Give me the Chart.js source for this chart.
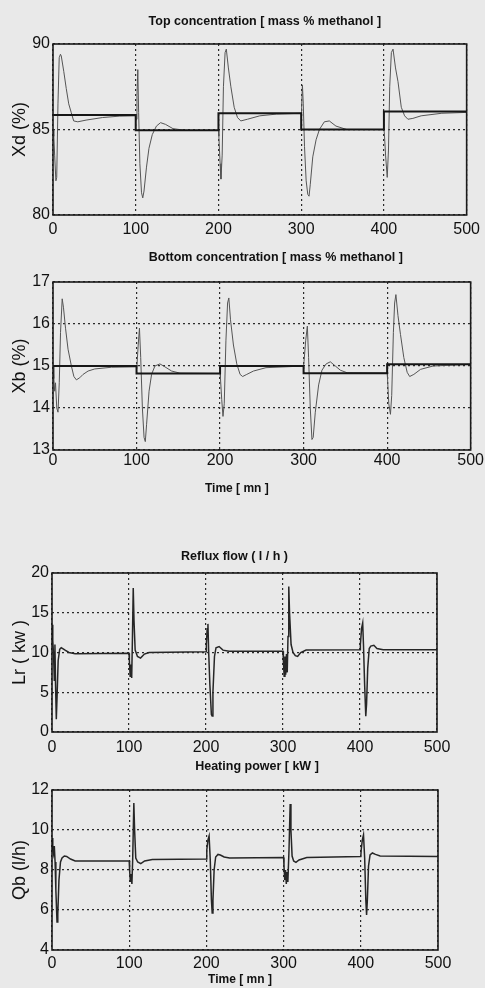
<!DOCTYPE html>
<html>
<head>
<meta charset="utf-8">
<script src="https://cdn.jsdelivr.net/npm/chart.js@4.4.1/dist/chart.umd.min.js"></script>
<style>
  html, body { margin: 0; padding: 0; background: #e9e9e9; }
  body { width: 485px; height: 988px; position: relative; overflow: hidden; }
  .panel { position: absolute; left: 0; width: 485px; }
</style>
</head>
<body>
<div class="panel" style="top:0;height:240px"><canvas id="xd"></canvas></div>
<div class="panel" style="top:240px;height:258px"><canvas id="xb"></canvas></div>
<div class="panel" style="top:498px;height:260px"><canvas id="lr"></canvas></div>
<div class="panel" style="top:758px;height:230px"><canvas id="qb"></canvas></div>
<script>
// top concentration, setpoint and response
const xdSpTime = [0, 100, 100, 200, 200, 300, 300, 400, 400, 500];
const xdSpValue = [85.85, 85.85, 84.95, 84.95, 85.95, 85.95, 85.0, 85.0, 86.05, 86.05];
const xdTime = [0, 1, 2, 3.5, 4.5, 6, 7.5, 9, 10, 13, 16, 19, 22, 25, 30, 40, 60, 80, 100,
  100.5, 101.5, 102.5, 103.5, 105, 107, 108.5, 110, 113, 116, 120, 125, 130, 136, 145, 160, 200,
  200.5, 202, 203, 204.5, 206, 208, 209.5, 212, 215, 219, 223, 227, 235, 250, 270, 300,
  300.5, 301.5, 302.5, 304, 306, 308, 309.5, 311, 314, 318, 322, 328, 334, 342, 355, 400,
  400.5, 402, 404, 405.5, 407, 409, 411, 414, 417, 421, 425, 429, 435, 445, 470, 500];
const xdValue = [85.0, 84.6, 83.5, 82.0, 82.2, 86.5, 89.2, 89.4, 89.3, 88.4, 87.4, 86.5, 86.0, 85.5, 85.45, 85.55, 85.7, 85.78, 85.8,
  85.6, 87.0, 88.5, 86.0, 83.0, 81.3, 81.0, 81.4, 82.8, 83.9, 84.7, 85.2, 85.4, 85.3, 85.05, 84.95, 84.95,
  84.6, 83.0, 82.1, 83.5, 87.5, 89.5, 89.7, 88.6, 87.5, 86.3, 85.7, 85.5, 85.6, 85.8, 85.9, 85.95,
  86.3, 87.6, 86.5, 84.0, 82.0, 81.2, 81.1, 81.8, 83.4, 84.4, 85.0, 85.45, 85.5, 85.2, 85.0, 85.0,
  84.8, 83.5, 82.2, 83.8, 87.5, 89.5, 89.7, 88.6, 87.8, 86.3, 85.8, 85.6, 85.65, 85.8, 85.95, 86.0];

// bottom concentration
const xbSpTime = [0, 100, 100, 200, 200, 300, 300, 400, 400, 500];
const xbSpValue = [15.0, 15.0, 14.82, 14.82, 15.0, 15.0, 14.83, 14.83, 15.04, 15.04];
const xbTime = [0, 1, 2, 3, 4.5, 6, 7.5, 9, 11, 12.5, 15, 18, 22, 25, 28, 32, 36, 42, 50, 70, 100,
  100.5, 102, 103.5, 105, 107, 109, 110.5, 112, 115, 118, 122, 128, 134, 142, 152, 200,
  200.5, 202, 203.5, 205, 207, 209, 210.5, 212.5, 216, 220, 224, 227, 232, 240, 255, 300,
  300.5, 302.5, 304.5, 306, 308, 310, 311.5, 314, 318, 322, 327, 332, 338, 344, 352, 400,
  400.5, 402, 404, 405.5, 407.5, 409, 410.5, 413, 416, 420, 424, 427, 432, 440, 455, 500];
const xbValue = [15.0, 14.7, 14.4, 14.6, 14.0, 13.9, 14.6, 15.8, 16.6, 16.4, 15.9, 15.4, 15.0, 14.75, 14.67, 14.72, 14.8, 14.88, 14.93, 14.97, 14.98,
  15.0, 15.5, 15.9, 15.2, 14.0, 13.3, 13.2, 13.6, 14.4, 14.8, 15.0, 15.05, 14.98, 14.88, 14.83, 14.82,
  14.7, 14.2, 13.8, 14.1, 15.6, 16.5, 16.62, 16.1, 15.5, 15.05, 14.8, 14.75, 14.8, 14.88, 14.96, 15.0,
  15.1, 15.6, 15.95, 15.2, 14.0, 13.25, 13.3, 13.9, 14.55, 14.9, 15.05, 15.1, 15.0, 14.9, 14.84, 14.83,
  14.7, 14.1, 13.85, 14.3, 15.8, 16.5, 16.7, 16.2, 15.75, 15.2, 14.85, 14.75, 14.8, 14.92, 15.0, 15.04];

// reflux flow
const lrTime = [0, 1, 2, 3, 3.8, 4.6, 5.6, 6.6, 8, 10, 12, 14, 17, 22, 30, 100,
  100.5, 101.5, 102.5, 103.5, 104.5, 105.5, 106.5, 108, 111, 115, 120, 126, 200,
  200.5, 201.5, 202.5, 203.5, 205, 207, 208, 209, 211, 213, 217, 222, 230, 300,
  300.5, 301.5, 302.5, 303.5, 304.5, 305.5, 306.5, 307.5, 308.5, 310.5, 313, 316, 319, 323, 330, 400,
  400.5, 402, 403.5, 404.5, 406, 407.5, 408.5, 410, 412, 414, 418, 422, 430, 500];
const lrValue = [13.5, 11.5, 9.8, 6.5, 11.0, 6.0, 1.6, 4.5, 9.0, 10.4, 10.6, 10.5, 10.3, 10.0, 9.85, 9.9,
  9.0, 7.0, 8.5, 6.8, 12.0, 18.1, 14.0, 10.3, 9.5, 9.3, 9.8, 10.0, 10.1,
  11.0, 13.0, 13.6, 10.0, 6.0, 2.2, 2.0, 5.0, 9.5, 10.6, 10.75, 10.3, 10.15, 10.15,
  9.0, 7.0, 9.5, 7.2, 9.8, 7.5, 12.0, 18.3, 15.0, 11.0, 10.0, 9.6, 9.5, 10.0, 10.3, 10.35,
  11.0, 13.0, 13.7, 11.0, 6.0, 2.0, 3.5, 8.0, 10.5, 10.8, 10.9, 10.5, 10.35, 10.35];

// heating power
const qbTime = [0, 1, 2, 3, 4, 5, 6.5, 7.5, 9, 11, 13, 16, 19, 24, 30, 100,
  100.5, 101.5, 102.5, 103.5, 104.5, 106, 107, 108.5, 111, 115, 120, 130, 200,
  200.5, 202, 203.5, 205, 206.5, 207.5, 208.5, 210, 212, 215, 218, 223, 230, 300,
  300.5, 301.5, 302.5, 303.5, 304.5, 305.5, 307, 308.5, 309.5, 311, 313, 316, 320, 330, 400,
  400.5, 402, 403.5, 405, 406.5, 407.5, 408.5, 410, 412, 415, 419, 425, 500];
const qbValue = [9.6, 9.0, 8.8, 9.2, 8.4, 7.0, 5.4, 5.8, 7.5, 8.4, 8.6, 8.7, 8.68, 8.55, 8.45, 8.45,
  8.0, 7.4, 7.8, 7.3, 8.5, 11.35, 10.0, 8.6, 8.4, 8.32, 8.45, 8.52, 8.55,
  9.0, 9.5, 9.7, 8.5, 6.5, 5.85, 6.5, 8.0, 8.65, 8.78, 8.75, 8.65, 8.6, 8.62,
  8.2, 7.5, 8.0, 7.3, 7.9, 7.4, 9.0, 11.3, 10.0, 8.7, 8.45, 8.38, 8.5, 8.62, 8.67,
  9.0, 9.5, 9.75, 8.6, 6.5, 5.75, 6.5, 8.2, 8.75, 8.85, 8.78, 8.7, 8.67];

const tickFont = { family: "'Liberation Sans', Arial, sans-serif", size: 16 };
const axisFont = { family: "'Liberation Sans', Arial, sans-serif", size: 18 };
const titleFont = "bold 12.5px 'Liberation Sans', Arial, sans-serif";
const timeFont = "bold 12px 'Liberation Sans', Arial, sans-serif";

const pts = (t, v) => t.map((x, i) => ({ x: x, y: v[i] }));

// text drawn relative to the plot centre
const panelText = {
  id: 'panelText',
  afterDraw(chart, args, opts) {
    const { ctx, chartArea } = chart;
    const mid = (chartArea.left + chartArea.right) / 2;
    ctx.save();
    ctx.fillStyle = '#111';
    ctx.textAlign = 'center';
    ctx.textBaseline = 'middle';
    (opts.items || []).forEach(item => {
      ctx.font = item.font;
      ctx.fillText(item.text, mid + item.dx, item.y);
    });
    ctx.restore();
  }
};

const frame = {
  id: 'frame',
  afterDraw(chart) {
    const { ctx, chartArea: a } = chart;
    ctx.save();
    ctx.strokeStyle = '#1a1a1a';
    ctx.lineWidth = 1.6;
    ctx.strokeRect(a.left, a.top, a.right - a.left, a.bottom - a.top);
    ctx.restore();
  }
};

function makeChart(id, cfg) {
  const grid = { color: '#2a2a2a', lineWidth: 1.2, drawTicks: false };
  const border = { display: false, dash: [2, 3] };
  return new Chart(document.getElementById(id), {
    type: 'line',
    data: { datasets: cfg.datasets },
    options: {
      responsive: true,
      maintainAspectRatio: false,
      animation: false,
      layout: { padding: { top: cfg.top, right: cfg.right, left: 0, bottom: 0 } },
      plugins: {
        legend: { display: false },
        tooltip: { enabled: false },
        panelText: { items: cfg.labels }
      },
      scales: {
        x: {
          type: 'linear', min: 0, max: 500,
          ticks: { stepSize: 100, padding: cfg.xPad, font: tickFont, color: '#111', maxRotation: 0, autoSkip: false },
          grid: grid, border: border,
          afterFit: s => { s.height = cfg.xHeight; }
        },
        y: {
          min: cfg.yMin, max: cfg.yMax,
          ticks: { stepSize: cfg.yStep, padding: 3, font: tickFont, color: '#111' },
          grid: grid, border: border,
          title: { display: true, text: cfg.yTitle, font: axisFont, color: '#111', padding: { top: 9, bottom: 0 } },
          afterFit: s => { s.width = cfg.left; }
        }
      }
    },
    plugins: [panelText, frame]
  });
}

const spStyle = { borderColor: '#161616', borderWidth: 2, pointRadius: 0, tension: 0 };
const respStyle = { borderColor: '#555', borderWidth: 1, pointRadius: 0, tension: 0 };
const sigStyle = { borderColor: '#262626', borderWidth: 1.5, pointRadius: 0, tension: 0 };

makeChart('xd', {
  datasets: [
    Object.assign({ data: pts(xdSpTime, xdSpValue) }, spStyle),
    Object.assign({ data: pts(xdTime, xdValue) }, respStyle)
  ],
  top: 44, right: 14, left: 53, xHeight: 25, xPad: 5,
  yMin: 80, yMax: 90, yStep: 5, yTitle: 'Xd (%)',
  labels: [{ text: 'Top concentration [ mass % methanol ]', dx: 5, y: 22, font: titleFont }]
});

makeChart('xb', {
  datasets: [
    Object.assign({ data: pts(xbSpTime, xbSpValue) }, spStyle),
    Object.assign({ data: pts(xbTime, xbValue) }, respStyle)
  ],
  top: 42, right: 13, left: 53, xHeight: 48, xPad: 1,
  yMin: 13, yMax: 17, yStep: 1, yTitle: 'Xb (%)',
  labels: [
    { text: 'Bottom concentration [ mass % methanol ]', dx: 14, y: 18, font: titleFont },
    { text: 'Time [ mn ]', dx: -25, y: 249, font: timeFont }
  ]
});

makeChart('lr', {
  datasets: [Object.assign({ data: pts(lrTime, lrValue) }, sigStyle)],
  top: 75, right: 48, left: 52, xHeight: 26, xPad: 6,
  yMin: 0, yMax: 20, yStep: 5, yTitle: 'Lr ( kw )',
  labels: [{ text: 'Reflux flow ( l / h )', dx: -10, y: 59, font: titleFont }]
});

makeChart('qb', {
  datasets: [Object.assign({ data: pts(qbTime, qbValue) }, sigStyle)],
  top: 32, right: 47, left: 52, xHeight: 38, xPad: 4,
  yMin: 4, yMax: 12, yStep: 2, yTitle: 'Qb (l/h)',
  labels: [
    { text: 'Heating power [ kW ]', dx: 12, y: 9, font: titleFont },
    { text: 'Time [ mn ]', dx: -5, y: 222, font: timeFont }
  ]
});
</script>
</body>
</html>
